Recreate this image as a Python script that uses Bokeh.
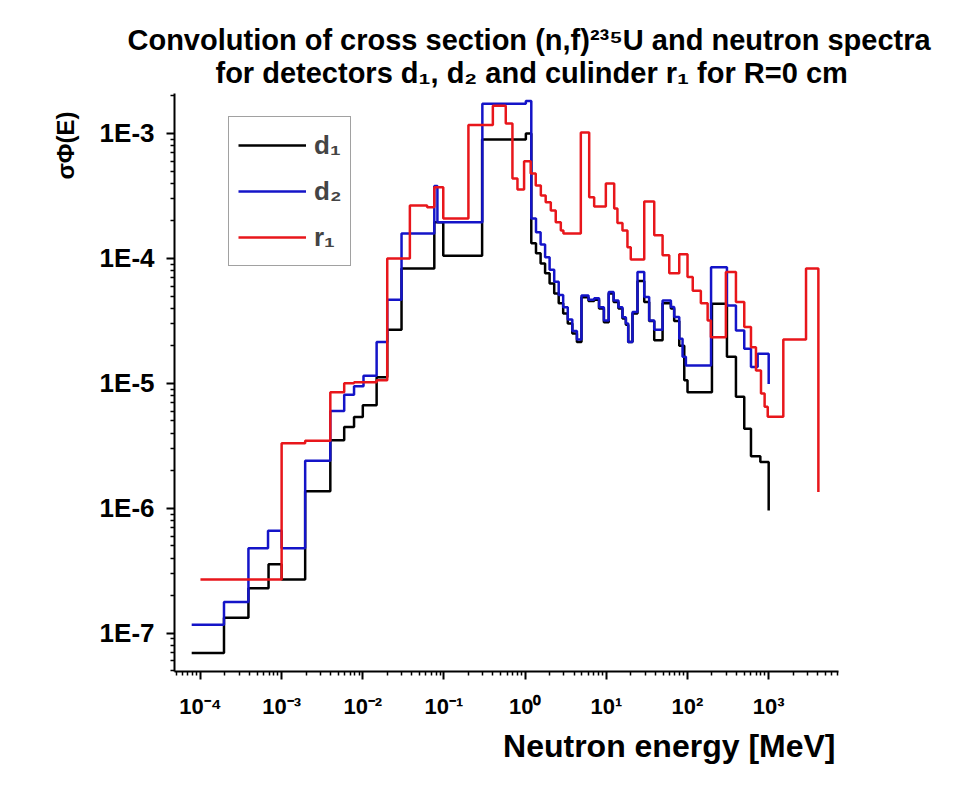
from bokeh.plotting import figure
from bokeh.models import Range1d, FixedTicker, CustomJSTickFormatter, Title
from bokeh.embed import file_html
from bokeh.resources import INLINE

# ---------------- data (energy in MeV, value sigma*Phi) ----------------
d1_E = [7.8e-5, 1.95e-4, 3.9e-4, 6.9e-4, 1.0e-3, 1.95e-3, 3.98e-3, 5.9e-3, 7.8e-3, 1.0e-2,
        1.48e-2, 2.0e-2, 3.0e-2, 7.6e-2, 0.098, 0.295, 1.02, 1.19, 1.36, 1.55,
        1.76, 2.0, 2.28, 2.59, 2.94, 3.35, 3.81, 4.34, 4.94, 6.03,
        7.08, 8.13, 9.33, 10.7, 12.3, 14.1, 15.8, 17.4, 18.6, 21.0,
        24.2, 29.3, 33.7, 38.9, 49.3, 62.4, 68.5, 79.1, 91.2, 100,
        200, 306, 395, 500, 605, 789, 1000]
d1_v = [6.95e-8, 1.33e-7, 2.29e-7, 3.56e-7, 2.69e-7, 1.37e-6, 3.5e-6, 4.47e-6, 5.37e-6, 6.67e-6,
        1.12e-5, 2.69e-5, 8.3e-5, 1.95e-4, 1.05e-4, 8.95e-4, 1.0e-3, 1.32e-4, 1.10e-4, 9.1e-5,
        7.6e-5, 6.3e-5, 5.25e-5, 4.37e-5, 3.63e-5, 3.02e-5, 2.51e-5, 2.14e-5, 4.9e-5, 4.57e-5,
        4.68e-5, 3.98e-5, 3.09e-5, 5.25e-5, 4.47e-5, 3.98e-5, 3.31e-5, 2.95e-5, 2.14e-5, 3.63e-5,
        6.6e-5, 4.47e-5, 3.16e-5, 2.21e-5, 4.37e-5, 3.98e-5, 3.16e-5, 2.0e-5, 1.06e-5, 8.5e-6,
        4.34e-5, 1.63e-5, 7.8e-6, 4.34e-6, 2.61e-6, 2.35e-6, 9.6e-7]

d2_E = [7.8e-5, 1.95e-4, 3.9e-4, 6.8e-4, 1.0e-3, 1.95e-3, 3.98e-3, 5.9e-3, 7.8e-3, 1.02e-2,
        1.48e-2, 2.0e-2, 3.0e-2, 7.6e-2, 8.3e-2, 0.297, 1.02, 1.19, 1.36, 1.55,
        1.76, 2.0, 2.28, 2.59, 2.94, 3.35, 3.81, 4.34, 4.94, 6.03,
        7.08, 8.13, 9.33, 10.7, 12.3, 14.1, 15.8, 17.4, 18.6, 21.0,
        24.2, 29.3, 33.7, 38.9, 49.3, 62.4, 68.5, 79.1, 86.9, 95.5,
        195, 306, 395, 500, 605, 731, 1000]
d2_v = [1.17e-7, 1.78e-7, 4.79e-7, 6.6e-7, 4.79e-7, 2.4e-6, 6.0e-6, 8.1e-6, 9.5e-6, 1.15e-5,
        2.14e-5, 4.68e-5, 1.58e-4, 3.8e-4, 1.95e-4, 1.73e-3, 1.82e-3, 2.09e-4, 1.62e-4, 1.29e-4,
        1.02e-4, 8.1e-5, 6.5e-5, 5.1e-5, 4.07e-5, 3.24e-5, 2.63e-5, 2.24e-5, 5.06e-5, 4.68e-5,
        4.79e-5, 4.07e-5, 3.19e-5, 5.38e-5, 4.61e-5, 4.07e-5, 3.39e-5, 3.02e-5, 2.14e-5, 3.72e-5,
        7.8e-5, 4.91e-5, 3.19e-5, 2.69e-5, 4.61e-5, 4.08e-5, 3.40e-5, 2.28e-5, 1.63e-5, 1.39e-5,
        8.5e-5, 4.2e-5, 2.65e-5, 1.89e-5, 1.35e-5, 1.73e-5, 9.9e-6]

r1_E = [1.0e-4, 1.0e-3, 1.95e-3, 3.98e-3, 5.9e-3, 7.8e-3, 1.48e-2, 2.0e-2, 3.8e-2, 6.2e-2,
        7.6e-2, 0.098, 0.20, 0.40, 0.577, 0.697, 0.804, 0.97, 1.17, 1.35,
        1.56, 1.79, 2.07, 2.38, 2.75, 2.96, 4.85, 6.15, 7.08, 9.86,
        12.5, 13.7, 15.8, 18.2, 20.0, 29.3, 38.9, 49.3, 59.6, 79.1,
        100, 116, 146, 177, 194, 297, 395, 500, 605, 697,
        804, 891, 973, 1514, 2884, 4093]
r1_v = [2.69e-7, 3.31e-6, 3.47e-6, 8.5e-6, 1.0e-5, 1.02e-5, 1.06e-5, 1.0e-4, 2.65e-4, 2.57e-4,
        3.72e-4, 2.09e-4, 1.17e-3, 1.67e-3, 1.2e-3, 4.37e-4, 3.56e-4, 6.0e-4, 4.79e-4, 3.84e-4,
        3.19e-4, 2.82e-4, 2.42e-4, 1.95e-4, 1.67e-4, 1.58e-4, 1.02e-3, 3.09e-4, 2.61e-4, 3.98e-4,
        2.51e-4, 1.92e-4, 1.67e-4, 1.23e-4, 9.8e-5, 2.86e-4, 1.53e-4, 1.06e-4, 7.6e-5, 1.08e-4,
        7.1e-5, 5.5e-5, 4.37e-5, 3.19e-5, 2.34e-5, 7.8e-5, 4.47e-5, 2.82e-5, 1.95e-5, 1.27e-5,
        8.3e-6, 6.5e-6, 5.4e-6, 2.24e-5, 8.3e-5, 1.35e-6]

series_labels = ["d\u2081", "d\u2082", "r\u2081"]
series_colors = ["#000000", "#1414C8", "#E8161B"]

x_major = [1e-4, 1e-3, 1e-2, 1e-1, 1e0, 1e1, 1e2, 1e3]
y_major = [1e-7, 1e-6, 1e-5, 1e-4, 1e-3]

title1 = "Convolution of cross section (n,f)\u00b2\u00b3\u2075U and neutron spectra"
title2 = "for detectors d\u2081, d\u2082 and culinder r\u2081 for R=0 cm"
xlabel = "Neutron energy [MeV]"
ylabel = "\u03c3\u03a6(E)"

FONT = "Liberation Sans"

# ---------------- figure ----------------
p = figure(width=964, height=794, x_axis_type="log", y_axis_type="log",
           x_range=Range1d(4.79e-5, 7244), y_range=Range1d(4.94e-8, 2.09e-3),
           output_backend="svg", toolbar_location=None,
           min_border_left=174, min_border_top=93, min_border_right=126, min_border_bottom=123)
p.xgrid.visible = False
p.ygrid.visible = False
p.outline_line_color = None
p.background_fill_color = "white"
p.border_fill_color = "white"

for E, v, lab, col in zip([d1_E, d2_E, r1_E], [d1_v, d2_v, r1_v], series_labels, series_colors):
    p.step(E, v, mode="after", line_width=2.5, line_color=col, legend_label=lab)

def minors(majors_lo, majors_hi):
    out = []
    for k in range(majors_lo, majors_hi + 1):
        for m in range(2, 10):
            out.append(m * 10.0 ** k)
    return out

p.xaxis.ticker = FixedTicker(ticks=x_major, minor_ticks=minors(-5, 3))
p.yaxis.ticker = FixedTicker(ticks=y_major, minor_ticks=minors(-8, -3))

p.xaxis.formatter = CustomJSTickFormatter(code="""
const e = Math.round(Math.log10(tick));
const sup = {'-':'\u207b','0':'\u2070','1':'\u00b9','2':'\u00b2','3':'\u00b3','4':'\u2074','5':'\u2075','6':'\u2076','7':'\u2077','8':'\u2078','9':'\u2079'};
return '10' + String(e).split('').map(c => sup[c]).join('');
""")
p.yaxis.formatter = CustomJSTickFormatter(code="""
return '1E' + Math.round(Math.log10(tick));
""")

for ax in (p.xaxis, p.yaxis):
    ax.axis_line_width = 2
    ax.axis_line_color = "black"
    ax.major_tick_line_width = 2
    ax.minor_tick_line_width = 1.5
    ax.major_tick_out = 8
    ax.major_tick_in = 0
    ax.minor_tick_out = 4
    ax.minor_tick_in = 0
    ax.major_label_text_font = FONT
    ax.major_label_text_font_style = "bold"
    ax.major_label_text_color = "black"

p.xaxis.major_label_text_font_size = "22px"
p.xaxis.major_label_standoff = 14
p.yaxis.major_label_text_font_size = "26px"
p.yaxis.major_label_standoff = 12

# titles (added later = further from the frame)
p.title.visible = False
p.add_layout(Title(text=title2, align="left", offset=41, standoff=10,
                   text_font=FONT, text_font_style="bold", text_font_size="29px",
                   text_color="black"), "above")
p.add_layout(Title(text=title1, align="left", offset=-47, standoff=-12,
                   text_font=FONT, text_font_style="bold", text_font_size="29px",
                   text_color="black"), "above")
p.add_layout(Title(text=xlabel, align="right", offset=3, standoff=8,
                   text_font=FONT, text_font_style="bold", text_font_size="32px",
                   text_color="black"), "below")
p.add_layout(Title(text=ylabel, align="right", offset=18, standoff=36,
                   text_font=FONT, text_font_style="bold", text_font_size="24px",
                   text_color="black"), "left")

leg = p.legend[0]
leg.location = (54, 405)
leg.border_line_color = "#444444"
leg.border_line_width = 1
leg.background_fill_alpha = 1.0
leg.label_text_font = FONT
leg.label_text_font_style = "bold"
leg.label_text_font_size = "26px"
leg.glyph_width = 68
leg.glyph_height = 38
leg.label_height = 38
leg.spacing = 8
leg.padding = 9
leg.label_standoff = 8
leg.margin = 0

open("out.html", "w").write(file_html(p, INLINE))
